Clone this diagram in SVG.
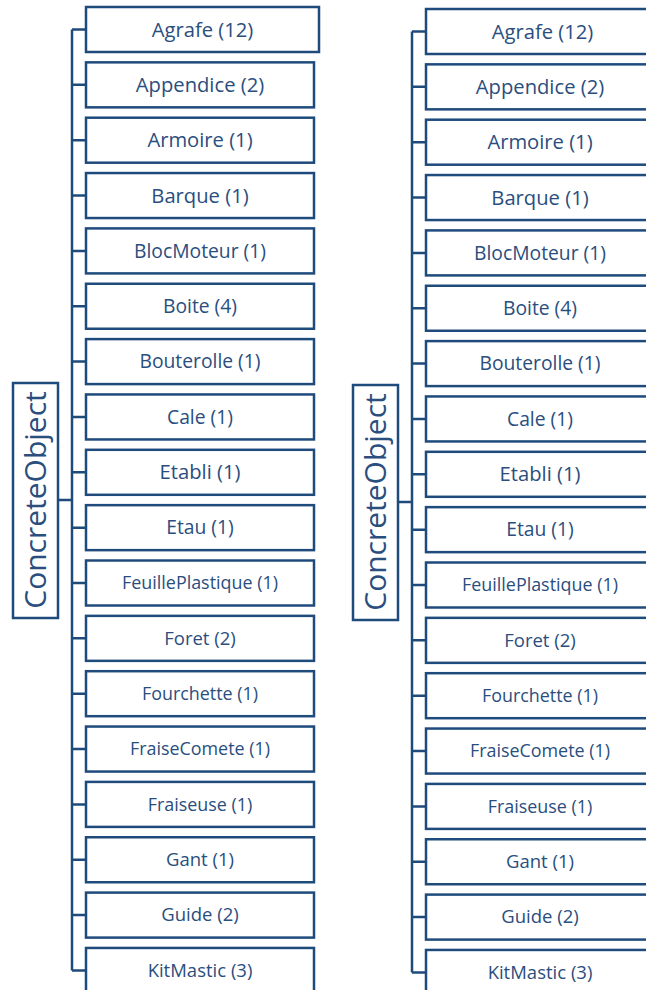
<svg xmlns="http://www.w3.org/2000/svg" width="646" height="990" viewBox="0 0 646 990">
<style>
.box{fill:#fff;stroke:#1F4A7C;stroke-width:2.5}
.lbl{font-family:"Open Sans","Liberation Sans",sans-serif;font-size:19px;fill:#2A4E7E;text-anchor:middle}
.a{font-size:20.2px}
.b{font-size:19.3px}
.c{font-size:18.5px}
.d{font-size:17.9px}
.root{font-family:"Open Sans","Liberation Sans",sans-serif;font-size:30px;fill:#2A4E7E;text-anchor:middle}
.con{fill:none;stroke:#1F4A7C;stroke-width:2.5}
</style>
<rect width="646" height="990" fill="#fff"/>
<g id="connectors">
<path class="con" d="M72 29.5V970.45M58 500H72M72 29.5H86M72 84.85H86M72 140.2H86M72 195.55H86M72 250.9H86M72 306.25H86M72 361.6H86M72 416.95H86M72 472.3H86M72 527.65H86M72 583H86M72 638.35H86M72 693.7H86M72 749.05H86M72 804.4H86M72 859.75H86M72 915.1H86M72 970.45H86"/>
<path class="con" transform="translate(340,2)" d="M72 29.5V970.45M58 500H72M72 29.5H86M72 84.85H86M72 140.2H86M72 195.55H86M72 250.9H86M72 306.25H86M72 361.6H86M72 416.95H86M72 472.3H86M72 527.65H86M72 583H86M72 638.35H86M72 693.7H86M72 749.05H86M72 804.4H86M72 859.75H86M72 915.1H86M72 970.45H86"/>
</g>
<g id="L-root"><rect class="box" x="13" y="383" width="45" height="235"/><text class="root" transform="translate(46,500) rotate(-90)">ConcreteObject</text></g>
<g id="L-agrafe"><rect class="box" x="86" y="7" width="233" height="45"/><text class="lbl a" x="202.5" y="36.5">Agrafe (12)</text></g>
<g id="L-appendice"><rect class="box" x="86" y="62.35" width="228" height="45"/><text class="lbl a" x="200" y="91.85">Appendice (2)</text></g>
<g id="L-armoire"><rect class="box" x="86" y="117.7" width="228" height="45"/><text class="lbl a" x="200" y="147.2">Armoire (1)</text></g>
<g id="L-barque"><rect class="box" x="86" y="173.05" width="228" height="45"/><text class="lbl a" x="200" y="202.55">Barque (1)</text></g>
<g id="L-blocmoteur"><rect class="box" x="86" y="228.4" width="228" height="45"/><text class="lbl b" x="200" y="257.6">BlocMoteur (1)</text></g>
<g id="L-boite"><rect class="box" x="86" y="283.75" width="228" height="45"/><text class="lbl b" x="200" y="312.95">Boite (4)</text></g>
<g id="L-bouterolle"><rect class="box" x="86" y="339.1" width="228" height="45"/><text class="lbl b" x="200" y="368.3">Bouterolle (1)</text></g>
<g id="L-cale"><rect class="box" x="86" y="394.45" width="228" height="45"/><text class="lbl b" x="200" y="423.65">Cale (1)</text></g>
<g id="L-etabli"><rect class="box" x="86" y="449.8" width="228" height="45"/><text class="lbl a" x="200" y="479.3">Etabli (1)</text></g>
<g id="L-etau"><rect class="box" x="86" y="505.15" width="228" height="45"/><text class="lbl b" x="200" y="534.35">Etau (1)</text></g>
<g id="L-feuilleplastique"><rect class="box" x="86" y="560.5" width="228" height="45"/><text class="lbl d" x="200" y="589.2">FeuillePlastique (1)</text></g>
<g id="L-foret"><rect class="box" x="86" y="615.85" width="228" height="45"/><text class="lbl c" x="200" y="644.65">Foret (2)</text></g>
<g id="L-fourchette"><rect class="box" x="86" y="671.2" width="228" height="45"/><text class="lbl d" x="200" y="699.9">Fourchette (1)</text></g>
<g id="L-fraisecomete"><rect class="box" x="86" y="726.55" width="228" height="45"/><text class="lbl d" x="200" y="755.25">FraiseComete (1)</text></g>
<g id="L-fraiseuse"><rect class="box" x="86" y="781.9" width="228" height="45"/><text class="lbl d" x="200" y="810.6">Fraiseuse (1)</text></g>
<g id="L-gant"><rect class="box" x="86" y="837.25" width="228" height="45"/><text class="lbl c" x="200" y="866.05">Gant (1)</text></g>
<g id="L-guide"><rect class="box" x="86" y="892.6" width="228" height="45"/><text class="lbl c" x="200" y="921.4">Guide (2)</text></g>
<g id="L-kitmastic"><rect class="box" x="86" y="947.95" width="228" height="45"/><text class="lbl c" x="200" y="976.75">KitMastic (3)</text></g>
<g transform="translate(340,2)">
<g id="R-root"><rect class="box" x="13" y="383" width="45" height="235"/><text class="root" transform="translate(46,500) rotate(-90)">ConcreteObject</text></g>
<g id="R-agrafe"><rect class="box" x="86" y="7" width="233" height="45"/><text class="lbl a" x="202.5" y="36.5">Agrafe (12)</text></g>
<g id="R-appendice"><rect class="box" x="86" y="62.35" width="228" height="45"/><text class="lbl a" x="200" y="91.85">Appendice (2)</text></g>
<g id="R-armoire"><rect class="box" x="86" y="117.7" width="228" height="45"/><text class="lbl a" x="200" y="147.2">Armoire (1)</text></g>
<g id="R-barque"><rect class="box" x="86" y="173.05" width="228" height="45"/><text class="lbl a" x="200" y="202.55">Barque (1)</text></g>
<g id="R-blocmoteur"><rect class="box" x="86" y="228.4" width="228" height="45"/><text class="lbl b" x="200" y="257.6">BlocMoteur (1)</text></g>
<g id="R-boite"><rect class="box" x="86" y="283.75" width="228" height="45"/><text class="lbl b" x="200" y="312.95">Boite (4)</text></g>
<g id="R-bouterolle"><rect class="box" x="86" y="339.1" width="228" height="45"/><text class="lbl b" x="200" y="368.3">Bouterolle (1)</text></g>
<g id="R-cale"><rect class="box" x="86" y="394.45" width="228" height="45"/><text class="lbl b" x="200" y="423.65">Cale (1)</text></g>
<g id="R-etabli"><rect class="box" x="86" y="449.8" width="228" height="45"/><text class="lbl a" x="200" y="479.3">Etabli (1)</text></g>
<g id="R-etau"><rect class="box" x="86" y="505.15" width="228" height="45"/><text class="lbl b" x="200" y="534.35">Etau (1)</text></g>
<g id="R-feuilleplastique"><rect class="box" x="86" y="560.5" width="228" height="45"/><text class="lbl d" x="200" y="589.2">FeuillePlastique (1)</text></g>
<g id="R-foret"><rect class="box" x="86" y="615.85" width="228" height="45"/><text class="lbl c" x="200" y="644.65">Foret (2)</text></g>
<g id="R-fourchette"><rect class="box" x="86" y="671.2" width="228" height="45"/><text class="lbl d" x="200" y="699.9">Fourchette (1)</text></g>
<g id="R-fraisecomete"><rect class="box" x="86" y="726.55" width="228" height="45"/><text class="lbl d" x="200" y="755.25">FraiseComete (1)</text></g>
<g id="R-fraiseuse"><rect class="box" x="86" y="781.9" width="228" height="45"/><text class="lbl d" x="200" y="810.6">Fraiseuse (1)</text></g>
<g id="R-gant"><rect class="box" x="86" y="837.25" width="228" height="45"/><text class="lbl c" x="200" y="866.05">Gant (1)</text></g>
<g id="R-guide"><rect class="box" x="86" y="892.6" width="228" height="45"/><text class="lbl c" x="200" y="921.4">Guide (2)</text></g>
<g id="R-kitmastic"><rect class="box" x="86" y="947.95" width="228" height="45"/><text class="lbl c" x="200" y="976.75">KitMastic (3)</text></g>
</g>
</svg>
